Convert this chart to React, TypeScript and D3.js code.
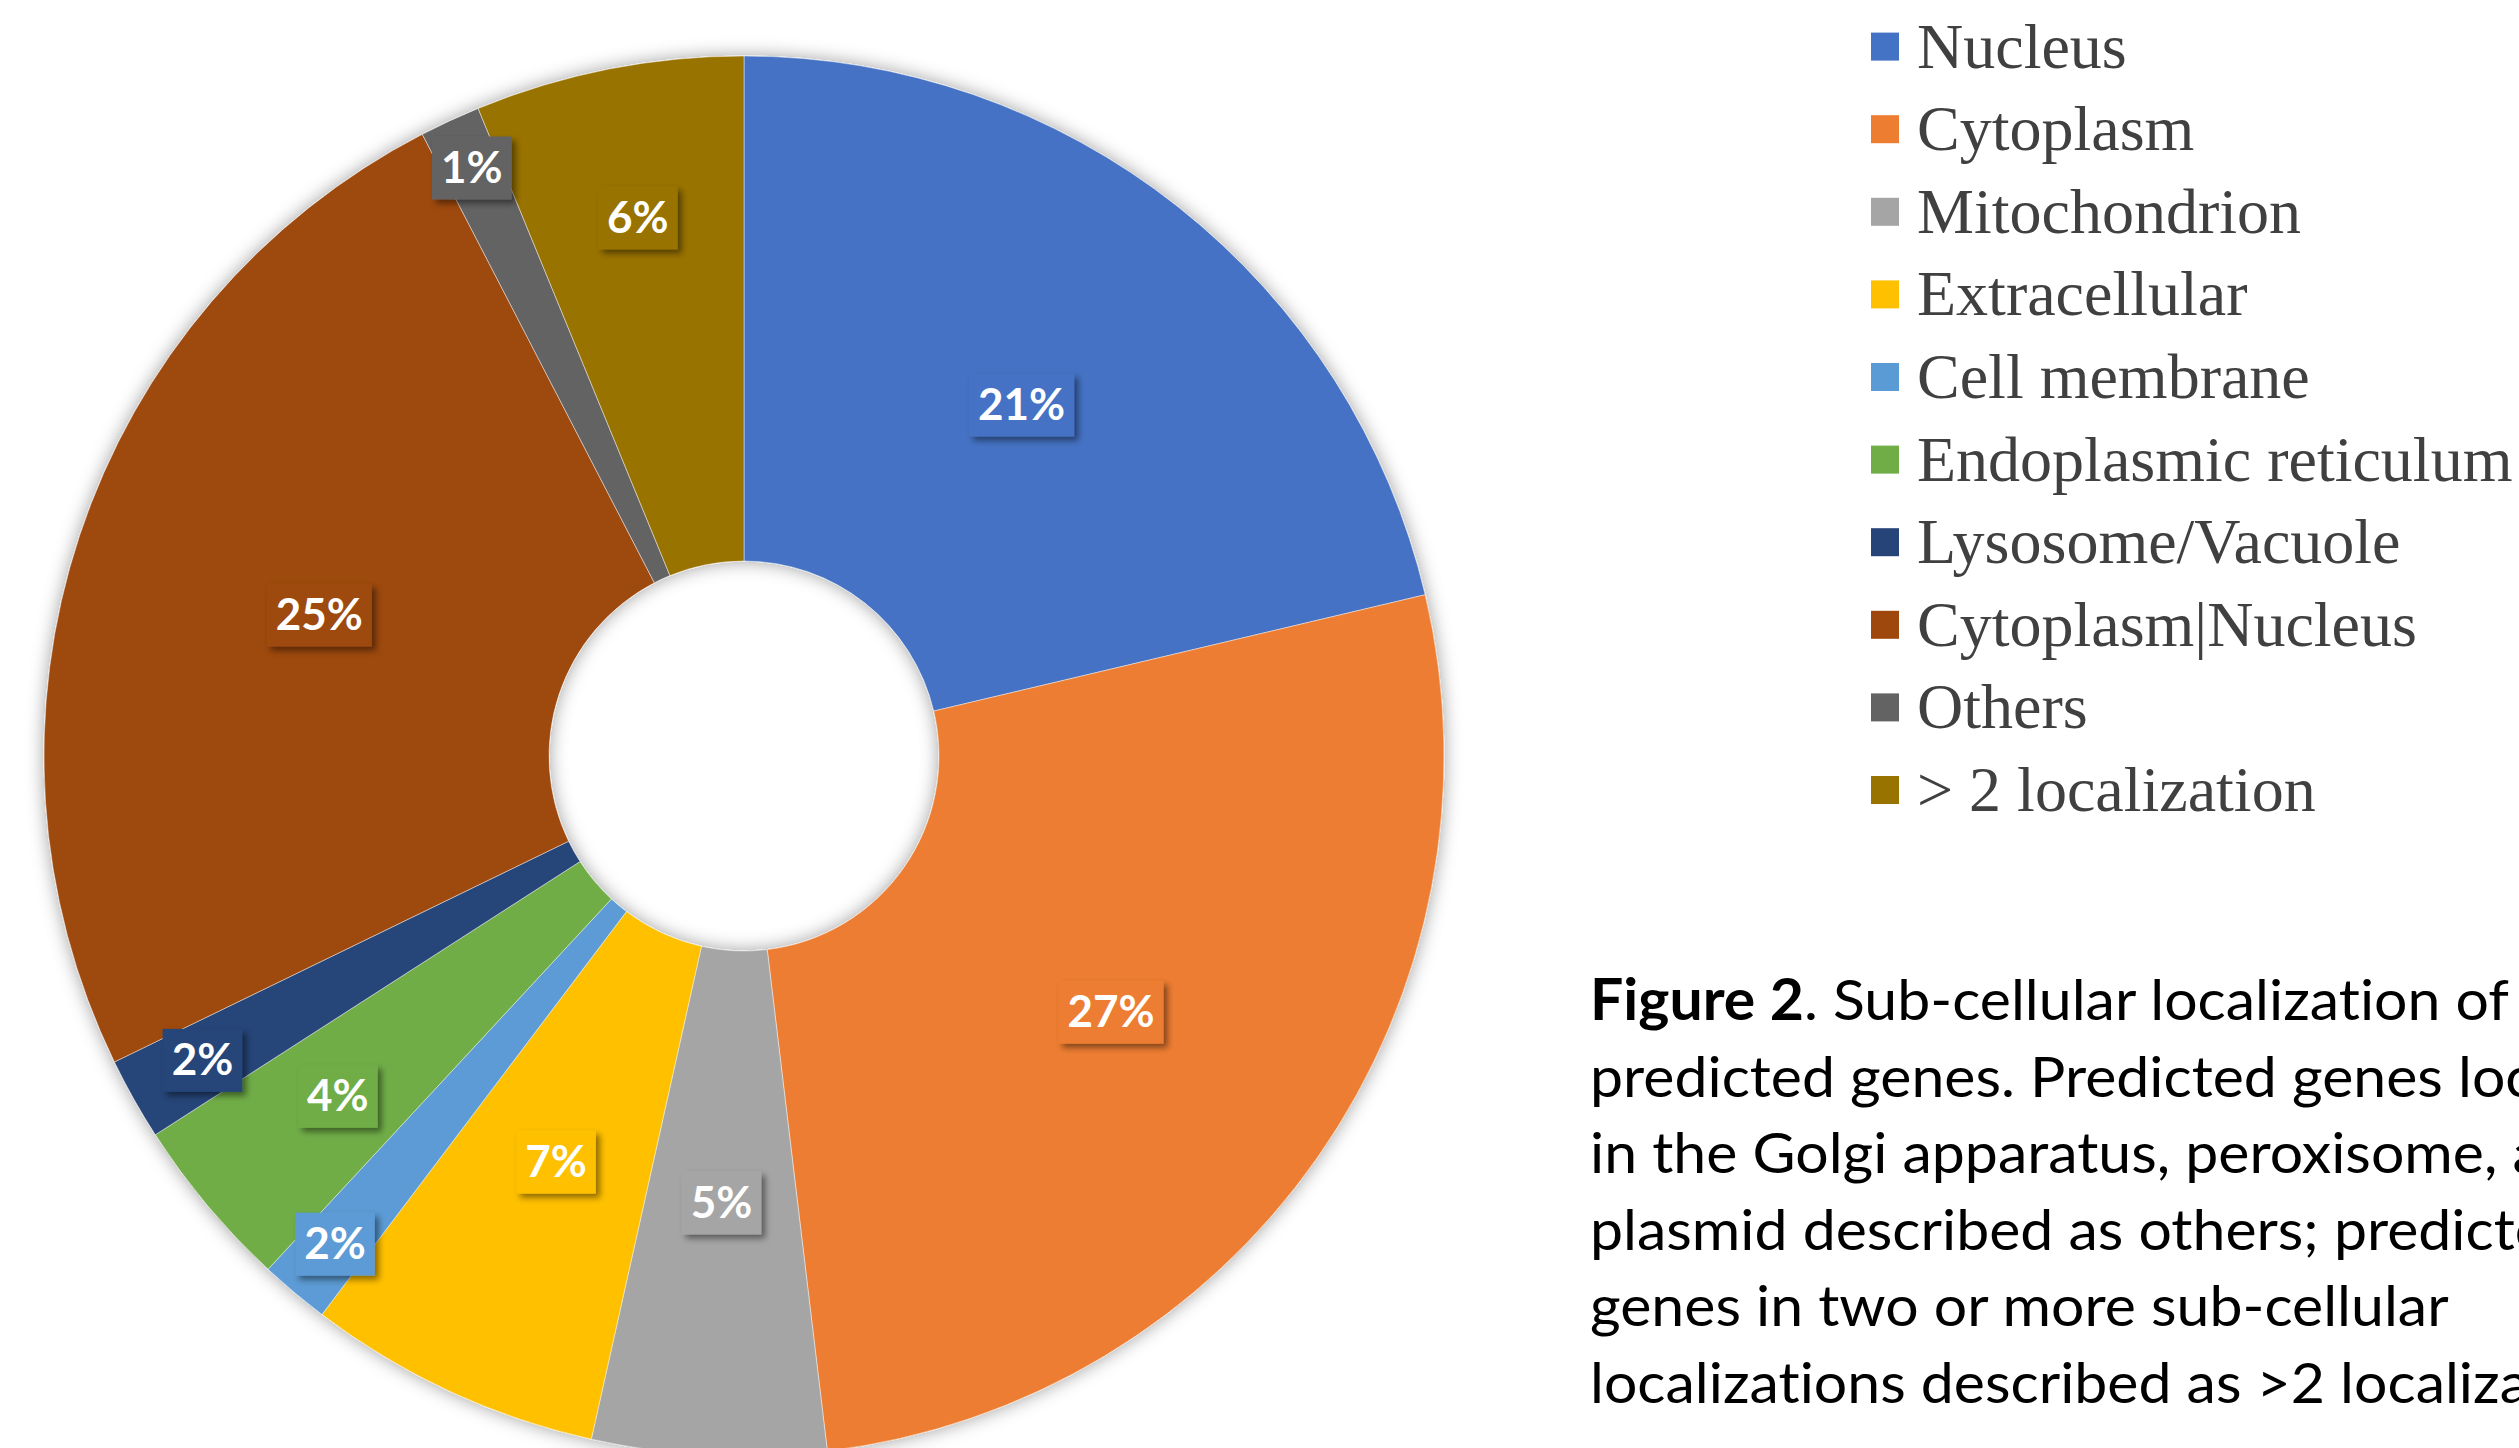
import React, { useEffect, useRef } from 'react';
import * as d3 from 'd3';

// ---- data ----
const categories = [
  'Nucleus',
  'Cytoplasm',
  'Mitochondrion',
  'Extracellular',
  'Cell membrane',
  'Endoplasmic reticulum',
  'Lysosome/Vacuole',
  'Cytoplasm|Nucleus',
  'Others',
  '> 2 localization',
];
const shares = [21.3, 26.8, 5.4, 6.8, 1.6, 4.0, 1.9, 24.6, 1.4, 6.2];
const colors = [
  '#4472C4', '#ED7D31', '#A5A5A5', '#FFC000', '#5B9BD5',
  '#70AD47', '#264478', '#9E480E', '#636363', '#997300',
];
// label placement inside the ring (0 = inner edge, 1 = outer edge), "best fit"
const labelRadiusFrac = [0.5, 0.5, 0.5, 0.5, 0.875, 0.663, 0.844, 0.5, 0.897, 0.7];

const captionBold = 'Figure 2';
const captionLines = [
  '. Sub-cellular localization of',
  'predicted genes. Predicted genes located',
  'in the Golgi apparatus, peroxisome, and',
  'plasmid described as others; predicted',
  'genes in two or more sub-cellular',
  'localizations described as >2 localization.',
];

const W = 2519;
const H = 1448;

export default function App() {
  const ref = useRef<SVGSVGElement | null>(null);

  useEffect(() => {
    const svg = d3.select(ref.current);
    svg.selectAll('*').remove();

    const defs = svg.append('defs');
    const ps = defs.append('filter').attr('id', 'pieShadow')
      .attr('x', '-10%').attr('y', '-10%').attr('width', '120%').attr('height', '120%');
    ps.append('feGaussianBlur').attr('in', 'SourceAlpha').attr('stdDeviation', 9).attr('result', 'b');
    ps.append('feFlood').attr('flood-color', '#000').attr('flood-opacity', 0.38).attr('result', 'f');
    ps.append('feComposite').attr('in', 'f').attr('in2', 'b').attr('operator', 'in').attr('result', 's');
    const m1 = ps.append('feMerge');
    m1.append('feMergeNode').attr('in', 's');
    m1.append('feMergeNode').attr('in', 'SourceGraphic');

    const ls = defs.append('filter').attr('id', 'lblShadow')
      .attr('x', '-30%').attr('y', '-30%').attr('width', '160%').attr('height', '160%');
    ls.append('feDropShadow').attr('dx', 4).attr('dy', 4).attr('stdDeviation', 3)
      .attr('flood-color', '#000').attr('flood-opacity', 0.45);

    svg.append('rect').attr('width', W).attr('height', H).attr('fill', '#fff');

    const cx = 744, cy = 756, rOuter = 700, rInner = 195;
    const total = d3.sum(shares);
    const pie = d3.pie<number>().sort(null).value((d) => d).startAngle(0).endAngle(2 * Math.PI);
    const arcs = pie(shares);
    const arc = d3.arc<d3.PieArcDatum<number>>().innerRadius(rInner).outerRadius(rOuter);

    const g = svg.append('g').attr('transform', `translate(${cx},${cy})`);
    g.append('g').attr('filter', 'url(#pieShadow)')
      .selectAll('path').data(arcs).join('path')
      .attr('d', arc as any)
      .attr('fill', (_, i) => colors[i])
      .attr('stroke', '#ffffff').attr('stroke-opacity', 0.45).attr('stroke-width', 1);

    // data labels
    const lg = g.append('g');
    arcs.forEach((a, i) => {
      const mid = (a.startAngle + a.endAngle) / 2;
      const r = rInner + labelRadiusFrac[i] * (rOuter - rInner);
      const x = r * Math.sin(mid);
      const y = -r * Math.cos(mid);
      const txt = `${Math.round((shares[i] / total) * 100)}%`;
      const gg = lg.append('g').attr('transform', `translate(${x},${y})`);
      const rect = gg.append('rect').attr('fill', colors[i]).attr('filter', 'url(#lblShadow)');
      const t = gg.append('text')
        .attr('text-anchor', 'middle')
        .attr('y', 15)
        .attr('font-family', 'Lato, "Open Sans", sans-serif')
        .attr('font-weight', 700)
        .attr('font-size', 44)
        .attr('fill', '#fff')
        .text(txt);
      const tw = (t.node() as SVGTextElement).getComputedTextLength();
      const bw = tw + 18, bh = 63;
      rect.attr('x', -bw / 2).attr('y', -bh / 2).attr('width', bw).attr('height', bh);
    });

    // legend
    const rowY = d3.scalePoint<string>().domain(categories).range([46.6, 46.6 + 82.6 * (categories.length - 1)]);
    const leg = svg.append('g');
    categories.forEach((c, i) => {
      const y = rowY(c)!;
      leg.append('rect').attr('x', 1871).attr('y', y - 14).attr('width', 28).attr('height', 28).attr('fill', colors[i]);
      leg.append('text').attr('x', 1917).attr('y', y + 21)
        .attr('font-family', '"Liberation Serif", "Times New Roman", serif')
        .attr('font-size', 64).attr('fill', '#404040').text(c);
    });

    // caption
    const cap = svg.append('g').attr('transform', 'translate(1590,0)');
    const capInner = cap.append('g');
    const lineY = d3.scaleLinear().domain([0, captionLines.length - 1]).range([1020, 1020 + 76.6 * (captionLines.length - 1)]);
    captionLines.forEach((line, i) => {
      const t = capInner.append('text').attr('x', 0).attr('y', lineY(i))
        .attr('font-family', 'Lato, "Open Sans", sans-serif').attr('font-size', 57).attr('fill', '#000')
        .style('font-variant-ligatures', 'none')
        .style('font-feature-settings', '"liga" 0, "clig" 0, "dlig" 0');
      if (i === 0) {
        t.append('tspan').attr('font-weight', 700).text(captionBold);
      }
      t.append('tspan').text(line);
    });
    const first = capInner.select('text').node() as SVGTextElement;
    const len = first.getComputedTextLength();
    const sx = 919 / len;
    capInner.attr('transform', `scale(${sx},1)`);
  }, []);

  return (
    <svg
      ref={ref}
      width={W}
      height={H}
      style={{ position: 'absolute', left: 0, top: 0, display: 'block' }}
    />
  );
}
